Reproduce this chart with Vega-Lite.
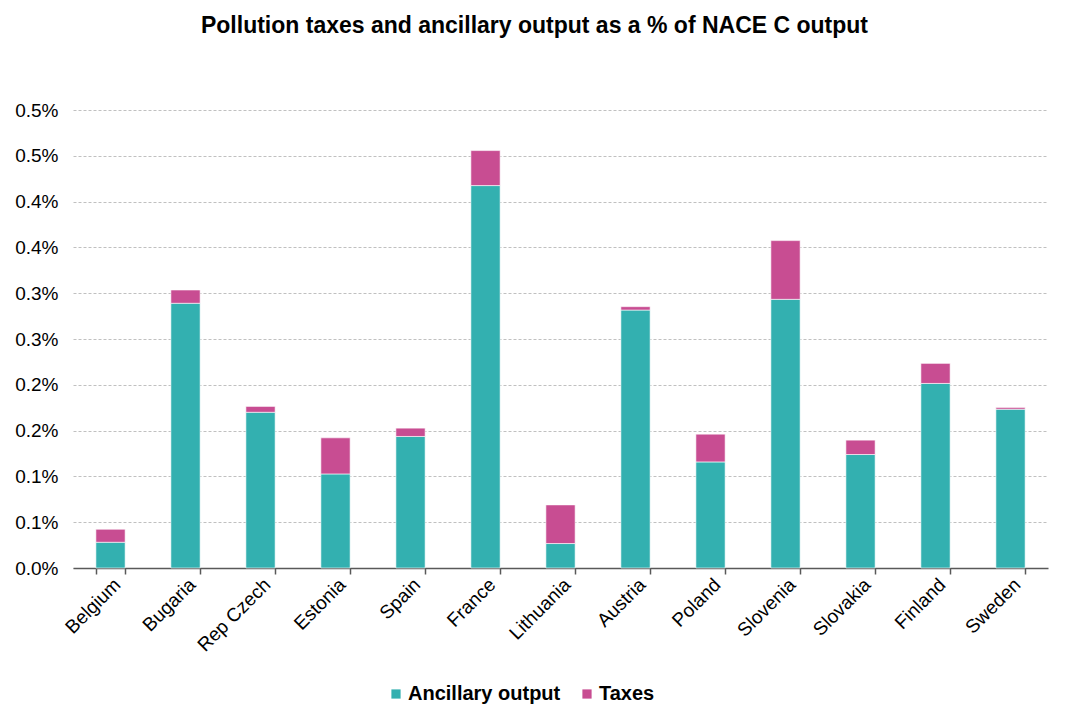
{
  "$schema": "https://vega.github.io/schema/vega-lite/v6.json",
  "width": 975,
  "height": 458,
  "autosize": {"type": "none"},
  "padding": {"left": 73, "top": 110, "right": 17, "bottom": 137},
  "background": "white",
  "title": {
    "text": "Pollution taxes and ancillary output as a % of NACE C output",
    "font": "Liberation Sans",
    "fontSize": 23,
    "fontWeight": "bold",
    "color": "#000000",
    "anchor": "middle",
    "dx": -26,
    "offset": 63
  },
  "data": {
    "values": [
      {"country": "Belgium", "series": "Ancillary output", "value": 0.000281},
      {"country": "Belgium", "series": "Taxes", "value": 0.000142},
      {"country": "Bugaria", "series": "Ancillary output", "value": 0.00289},
      {"country": "Bugaria", "series": "Taxes", "value": 0.000145},
      {"country": "Rep Czech", "series": "Ancillary output", "value": 0.0017},
      {"country": "Rep Czech", "series": "Taxes", "value": 0.000064},
      {"country": "Estonia", "series": "Ancillary output", "value": 0.001027},
      {"country": "Estonia", "series": "Taxes", "value": 0.000394},
      {"country": "Spain", "series": "Ancillary output", "value": 0.001436},
      {"country": "Spain", "series": "Taxes", "value": 0.000091},
      {"country": "France", "series": "Ancillary output", "value": 0.004175},
      {"country": "France", "series": "Taxes", "value": 0.000382},
      {"country": "Lithuania", "series": "Ancillary output", "value": 0.000267},
      {"country": "Lithuania", "series": "Taxes", "value": 0.000422},
      {"country": "Austria", "series": "Ancillary output", "value": 0.002816},
      {"country": "Austria", "series": "Taxes", "value": 0.000037},
      {"country": "Poland", "series": "Ancillary output", "value": 0.001158},
      {"country": "Poland", "series": "Taxes", "value": 0.000303},
      {"country": "Slovenia", "series": "Ancillary output", "value": 0.002933},
      {"country": "Slovenia", "series": "Taxes", "value": 0.000641},
      {"country": "Slovakia", "series": "Ancillary output", "value": 0.001239},
      {"country": "Slovakia", "series": "Taxes", "value": 0.000157},
      {"country": "Finland", "series": "Ancillary output", "value": 0.002015},
      {"country": "Finland", "series": "Taxes", "value": 0.000219},
      {"country": "Sweden", "series": "Ancillary output", "value": 0.001734},
      {"country": "Sweden", "series": "Taxes", "value": 0.000019}
    ]
  },
  "mark": {"type": "bar", "stroke": "white", "strokeWidth": 0.6},
  "encoding": {
    "x": {
      "field": "country",
      "type": "nominal",
      "sort": null,
      "scale": {"paddingInner": 0.61, "paddingOuter": 0.305},
      "axis": {
        "title": null,
        "labelAngle": -45,
        "labelFont": "Liberation Sans",
        "labelFontSize": 19,
        "labelColor": "#000000",
        "labelPadding": 1,
        "tickBand": "extent",
        "domainColor": "#595959",
        "domainWidth": 1.5,
        "tickColor": "#595959",
        "tickWidth": 1.5,
        "tickSize": 6,
        "grid": false
      }
    },
    "y": {
      "field": "value",
      "type": "quantitative",
      "stack": "zero",
      "scale": {"domain": [0, 0.005], "nice": false},
      "axis": {
        "title": null,
        "values": [0, 0.0005, 0.001, 0.0015, 0.002, 0.0025, 0.003, 0.0035, 0.004, 0.0045, 0.005],
        "labelExpr": "format(datum.value + 0.0000001, '.1%')",
        "labelFont": "Liberation Sans",
        "labelFontSize": 19,
        "labelColor": "#000000",
        "labelPadding": 15,
        "domain": false,
        "ticks": false,
        "grid": true,
        "gridColor": "#c0c0c0",
        "gridDash": [3, 2],
        "gridWidth": 1
      }
    },
    "color": {
      "field": "series",
      "type": "nominal",
      "scale": {"domain": ["Ancillary output", "Taxes"], "range": ["#33B0B0", "#C84D92"]},
      "legend": {
        "title": null,
        "orient": "none",
        "direction": "horizontal",
        "legendX": 313,
        "legendY": 574,
        "symbolType": "square",
        "symbolSize": 85,
        "symbolStrokeWidth": 0,
        "labelFont": "Liberation Sans",
        "labelFontSize": 20,
        "labelFontWeight": "bold",
        "labelColor": "#000000",
        "columnPadding": 16,
        "labelOffset": 2
      }
    },
    "order": {"field": "series", "sort": "ascending"}
  },
  "config": {"view": {"stroke": null}}
}
